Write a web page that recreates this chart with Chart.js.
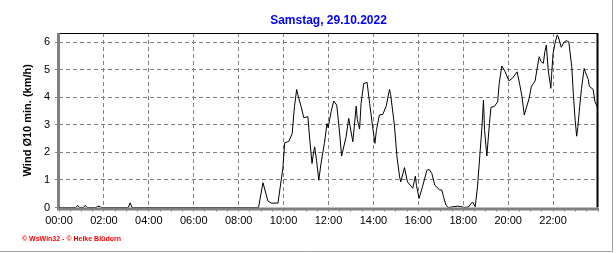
<!DOCTYPE html>
<html>
<head>
<meta charset="utf-8">
<title>Wind Ø10 min.</title>
<script src="https://cdn.jsdelivr.net/npm/chart.js@4"></script>
<style>
    html, body { margin: 0; padding: 0; background: #ffffff; }
    #chart { display: block; }
</style>
</head>
<body>
<canvas id="chart" width="616" height="253"></canvas>
<script>
    "use strict";

    // Data
    var chartTitle = "Samstag, 29.10.2022";
    var axisTitle = "Wind Ø10 min. (km/h)";
    var footerText = "© WsWin32 - © Heike Blüdorn";
    var hourLabels = ["00:00", "02:00", "04:00", "06:00", "08:00", "10:00",
                      "12:00", "14:00", "16:00", "18:00", "20:00", "22:00"];

    var times = [
        "00:00", "00:45", "00:50", "00:55", "01:05", "01:10", "01:15", "01:40", "01:42", "01:50", "01:53",
        "03:05", "03:10", "03:15", "08:53", "09:05", "09:18", "09:27", "09:45", "09:58",
        "10:03", "10:14", "10:23", "10:29", "10:35", "10:38", "10:47", "10:54", "11:05", "11:10",
        "11:16", "11:19", "11:23", "11:28", "11:34", "11:40", "11:49", "11:56", "11:59", "12:07",
        "12:14", "12:22", "12:29", "12:35", "12:47", "12:54", "13:05", "13:14", "13:17", "13:23",
        "13:27", "13:34", "13:43", "13:50", "13:58", "14:04", "14:08", "14:16", "14:25", "14:34",
        "14:43", "14:46", "14:56", "15:03", "15:10", "15:13", "15:23", "15:31", "15:41", "15:45",
        "15:52", "15:55", "16:02", "16:11", "16:23", "16:29", "16:36", "16:44", "16:56", "17:03",
        "17:07", "17:14", "17:20", "17:45", "18:05", "18:15", "18:20", "18:25", "18:32", "18:38",
        "18:44", "18:50", "18:54", "18:57", "19:03", "19:10", "19:14", "19:23", "19:32", "19:36",
        "19:43", "19:52", "20:02", "20:12", "20:24", "20:31", "20:37", "20:43", "20:48", "20:56",
        "21:02", "21:12", "21:18", "21:23", "21:28", "21:34", "21:38", "21:42", "21:47", "21:54",
        "21:56", "22:00", "22:05", "22:11", "22:14", "22:22", "22:29", "22:35", "22:42", "22:50",
        "22:54", "22:59", "23:03", "23:06", "23:11", "23:16", "23:23", "23:26", "23:34", "23:37",
        "23:47", "23:52", "23:56", "23:58"
    ];
    var wind = [
        0, 0, 0.08, 0, 0, 0.08, 0, 0, 0.04, 0.04, 0,
        0, 0.17, 0, 0, 0.9, 0.24, 0.16, 0.16, 1.42,
        2.35, 2.4, 2.69, 3.66, 4.29, 4.1, 3.66, 3.26, 3.3, 2.45,
        1.6, 1.9, 2.2, 1.72, 0.99, 1.6, 2.33, 3.05, 2.9, 3.48,
        3.87, 3.72, 2.81, 1.87, 2.57, 3.24, 2.39, 3.68, 3.2, 2.85,
        3.77, 4.5, 4.55, 3.77, 2.93, 2.33, 2.8, 3.36, 3.38, 3.68,
        4.29, 4.1, 3.0, 1.84, 1.11, 0.93, 1.45, 0.93, 0.77, 0.7,
        1.14, 0.8, 0.33, 0.75, 1.36, 1.38, 1.24, 0.81, 0.65, 0.63,
        0.4, 0.08, 0, 0.05, 0, 0.03, 0.13, 0.2, 0.03, 0.75,
        1.84, 2.93, 3.9, 2.8, 1.87, 3.05, 3.64, 3.67, 3.84, 4.5,
        5.14, 4.93, 4.6, 4.71, 4.93, 4.46, 4.02, 3.36, 3.6, 3.96,
        4.4, 4.6, 5.11, 5.48, 5.3, 5.24, 5.66, 5.9, 5.0, 4.33,
        4.8, 5.6, 5.96, 6.27, 6.2, 5.82, 6.0, 6.06, 6.02, 5.11,
        4.15, 3.17, 2.59, 2.9, 3.66, 4.33, 5.05, 4.93, 4.65, 4.4,
        4.29, 3.84, 3.72, 3.65
    ];

    function toHours(t) {
        var p = t.split(":");
        return parseInt(p[0], 10) + parseInt(p[1], 10) / 60;
    }

    var points = times.map(function (t, i) {
        return {x: toHours(t), y: wind[i]};
    });

    // Frame, title and footer
    var framePlugin = {
        id: "frame",
        beforeDatasetsDraw: function (chart) {
            var ctx = chart.ctx;
            var a = chart.chartArea;
            ctx.save();
            ctx.strokeStyle = "#000000";
            ctx.lineWidth = 1;
            ctx.beginPath();
            ctx.moveTo(a.left, a.top + 0.5);
            ctx.lineTo(a.right, a.top + 0.5);
            ctx.stroke();
            ctx.lineWidth = 2;
            ctx.beginPath();
            ctx.moveTo(a.right - 0.5, a.top);
            ctx.lineTo(a.right - 0.5, a.bottom);
            ctx.stroke();
            ctx.strokeStyle = "#808080";
            ctx.lineWidth = 3;
            ctx.beginPath();
            ctx.moveTo(a.left - 0.5, a.top);
            ctx.lineTo(a.left - 0.5, a.bottom + 1.5);
            ctx.lineTo(a.right, a.bottom + 1.5);
            ctx.stroke();
            ctx.restore();
        },
        afterDraw: function (chart) {
            var ctx = chart.ctx;
            var a = chart.chartArea;
            ctx.save();
            // outer frame
            ctx.strokeStyle = "#a0a0a0";
            ctx.lineWidth = 1;
            ctx.beginPath();
            ctx.moveTo(612.5, 0);
            ctx.lineTo(612.5, 251.5);
            ctx.lineTo(0, 251.5);
            ctx.stroke();
            // title
            ctx.fillStyle = "#0000ff";
            ctx.font = "bold 12px 'Liberation Sans', Arial, sans-serif";
            ctx.textAlign = "center";
            ctx.textBaseline = "alphabetic";
            ctx.fillText(chartTitle, (a.left + a.right) / 2, 24);
            // footer
            ctx.fillStyle = "#ff0000";
            ctx.font = "bold 7px 'Liberation Sans', Arial, sans-serif";
            ctx.textAlign = "left";
            ctx.fillText(footerText, 22, 241);
            ctx.restore();
        }
    };

    var ctx = document.getElementById("chart").getContext("2d");
    var myChart = new Chart(ctx, {
        type: "line",
        data: {
            datasets: [{
                data: points,
                borderColor: "#000000",
                borderWidth: 1,
                pointRadius: 0,
                tension: 0,
                fill: false
            }]
        },
        options: {
            responsive: false,
            animation: false,
            events: [],
            layout: {
                padding: {left: 0, top: 33, right: 18, bottom: 0}
            },
            plugins: {
                legend: {display: false},
                tooltip: {enabled: false},
                title: {display: false}
            },
            scales: {
                x: {
                    type: "linear",
                    min: 0,
                    max: 24,
                    afterFit: function (scale) { scale.height = 45.5; },
                    border: {display: false, dash: [4, 3]},
                    grid: {
                        color: function (c) {
                            var v = c.tick ? c.tick.value : 0;
                            return (v % 2 === 0 && v > 0 && v < 24) ? "#808080" : "rgba(0,0,0,0)";
                        },
                        tickColor: "#808080",
                        tickLength: 4,
                        lineWidth: 1
                    },
                    ticks: {
                        stepSize: 0.5,
                        autoSkip: false,
                        maxRotation: 0,
                        padding: 3,
                        color: "#000000",
                        font: {family: "'Liberation Sans', Arial, sans-serif", size: 11},
                        callback: function (v) {
                            return (v % 2 === 0 && v < 24) ? hourLabels[v / 2] : "";
                        }
                    }
                },
                y: {
                    min: 0,
                    max: 6.34,
                    afterFit: function (scale) { scale.width = 59; },
                    border: {display: false, dash: [4, 3]},
                    grid: {
                        color: function (c) {
                            var v = c.tick ? c.tick.value : 0;
                            return v > 0 ? "#808080" : "rgba(0,0,0,0)";
                        },
                        tickColor: "#808080",
                        tickLength: 4,
                        lineWidth: 1
                    },
                    ticks: {
                        stepSize: 1,
                        includeBounds: false,
                        padding: 5,
                        color: "#000000",
                        font: {family: "'Liberation Sans', Arial, sans-serif", size: 11}
                    },
                    title: {
                        display: true,
                        text: axisTitle,
                        color: "#000000",
                        padding: {top: 21, bottom: 0},
                        font: {family: "'Liberation Sans', Arial, sans-serif", size: 11, weight: "bold"}
                    }
                }
            }
        },
        plugins: [framePlugin]
    });
</script>
</body>
</html>
